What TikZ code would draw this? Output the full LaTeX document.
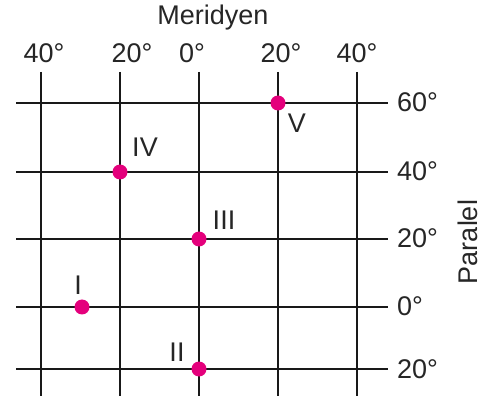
\documentclass[tikz,border=0pt]{standalone}
\usepackage{fontspec}
\setmainfont{Liberation Sans}
\definecolor{pembe}{RGB}{228,0,124}
\tikzset{
  cizgi/.style={line width=2.5pt, black!90},
  nokta/.style={circle, fill=pembe, inner sep=0pt, minimum size=15pt},
  yazi/.style={font=\fontsize{27}{30}\selectfont, inner sep=0pt, black!85}
}
\begin{document}
\begin{tikzpicture}[x=1pt,y=-1pt]
\useasboundingbox (0,0) rectangle (485,398);
% paraleller
\draw[cizgi] (16,103) -- (388,103);
\draw[cizgi] (16,172) -- (388,172);
\draw[cizgi] (16,239) -- (388,239);
\draw[cizgi] (16,307) -- (388,307);
\draw[cizgi] (16,369) -- (388,369);
% meridyenler
\draw[cizgi] (41,72) -- (41,396);
\draw[cizgi] (120,72) -- (120,396);
\draw[cizgi] (199,72) -- (199,396);
\draw[cizgi] (278,72) -- (278,396);
\draw[cizgi] (357,72) -- (357,396);
% basliklar
\node[yazi, anchor=base] (meridyen) at (213,25) {Meridyen};
\node[yazi, anchor=center, rotate=90] (paralel) at (468,242) {Paralel};
\node[yazi, anchor=base] (m40b) at (44,63) {40°};
\node[yazi, anchor=base] (m20b) at (132,63) {20°};
\node[yazi, anchor=base] (m0) at (192,63) {0°};
\node[yazi, anchor=base] (m20d) at (281,63) {20°};
\node[yazi, anchor=base] (m40d) at (357,63) {40°};
\node[yazi, anchor=base west] (p60) at (397,112) {60°};
\node[yazi, anchor=base west] (p40) at (397,181) {40°};
\node[yazi, anchor=base west] (p20k) at (397,248) {20°};
\node[yazi, anchor=base west] (p0) at (397,316) {0°};
\node[yazi, anchor=base west] (p20g) at (397,378) {20°};
% noktalar
\node[nokta] (V) at (278,103) {};
\node[nokta] (IV) at (120,172) {};
\node[nokta] (III) at (199,239) {};
\node[nokta] (I) at (82,307) {};
\node[nokta] (II) at (199,369) {};
\node[yazi, anchor=base] (etV) at (297,133) {V};
\node[yazi, anchor=base] (etIV) at (145,157) {IV};
\node[yazi, anchor=base] (etIII) at (224,230) {III};
\node[yazi, anchor=base] (etI) at (78,295) {I};
\node[yazi, anchor=base] (etII) at (177,362) {II};
\end{tikzpicture}
\end{document}
